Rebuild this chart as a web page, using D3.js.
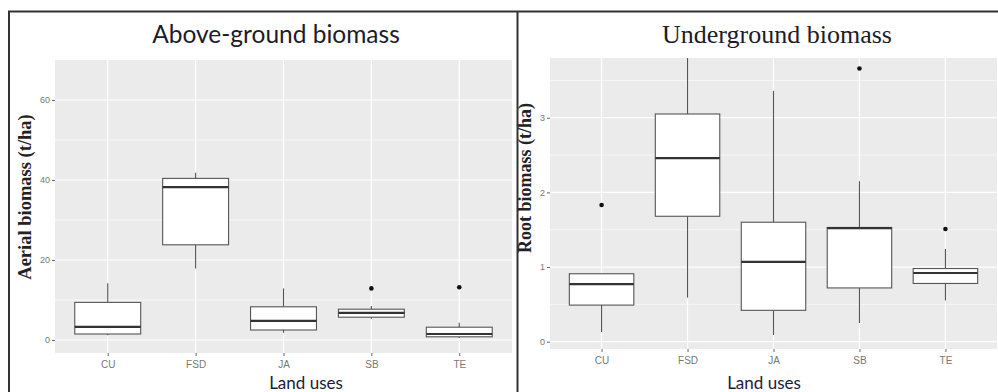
<!DOCTYPE html>
<html>
<head>
<meta charset="utf-8">
<script src="https://cdnjs.cloudflare.com/ajax/libs/d3/7.8.5/d3.min.js"></script>
<style>
  body { margin: 0; background: #fff; }
  svg { display: block; }
</style>
</head>
<body>
<svg id="chart" width="998" height="392"></svg>
<script>
// land use categories (same on both panels)
var categories = ["CU", "FSD", "JA", "SB", "TE"];

// above-ground biomass (t/ha), box stats per category
var aerialLow  = [1.2, 17.9, 1.8, 5.3, 0.5];
var aerialQ1   = [1.5, 23.8, 2.5, 5.7, 0.8];
var aerialMed  = [3.3, 38.2, 4.8, 6.8, 1.5];
var aerialQ3   = [9.4, 40.4, 8.3, 7.7, 3.2];
var aerialHigh = [14.2, 41.8, 12.9, 8.5, 4.3];
var aerialOut  = [[], [], [], [12.9], [13.2]];
var aerialTicks = [0, 20, 40, 60];

// underground biomass (t/ha)
var rootLow  = [0.13, 0.59, 0.09, 0.25, 0.55];
var rootQ1   = [0.49, 1.68, 0.42, 0.72, 0.78];
var rootMed  = [0.77, 2.46, 1.07, 1.52, 0.92];
var rootQ3   = [0.91, 3.05, 1.60, 1.53, 0.98];
var rootHigh = [0.91, 3.90, 3.36, 2.15, 1.24];
var rootOut  = [[1.83], [], [], [3.66], [1.51]];
var rootTicks = [0, 1, 2, 3];

var svg = d3.select("#chart");

// frame lines
svg.append("path")
    .attr("d", "M9,392 V11.5 H998 M517.5,11.5 V392")
    .attr("fill", "none")
    .attr("stroke", "#333")
    .attr("stroke-width", 2);

function drawPanel(opt) {
    var g = svg.append("g");
    var x = d3.scalePoint().domain(categories).range([opt.x0, opt.x1]).padding(0.6);
    var y = d3.scaleLinear().domain(opt.yDomain).range([opt.y1, opt.y0]);
    var step = x.step();

    g.append("rect")
        .attr("x", opt.x0).attr("y", opt.y0)
        .attr("width", opt.x1 - opt.x0).attr("height", opt.y1 - opt.y0)
        .attr("fill", "#EBEBEB");

    // minor grid
    g.selectAll(".minor").data(opt.minor).enter().append("line")
        .attr("x1", opt.x0).attr("x2", opt.x1)
        .attr("y1", d => y(d)).attr("y2", d => y(d))
        .attr("stroke", "#fff").attr("stroke-width", 0.6);
    // major grid
    g.selectAll(".majorY").data(opt.ticks).enter().append("line")
        .attr("x1", opt.x0).attr("x2", opt.x1)
        .attr("y1", d => y(d)).attr("y2", d => y(d))
        .attr("stroke", "#fff").attr("stroke-width", 1.2);
    g.selectAll(".majorX").data(categories).enter().append("line")
        .attr("x1", d => x(d)).attr("x2", d => x(d))
        .attr("y1", opt.y0).attr("y2", opt.y1)
        .attr("stroke", "#fff").attr("stroke-width", 1.2);

    var clipId = "clip" + opt.id;
    svg.append("clipPath").attr("id", clipId).append("rect")
        .attr("x", opt.x0).attr("y", opt.y0)
        .attr("width", opt.x1 - opt.x0).attr("height", opt.y1 - opt.y0);

    var boxes = g.append("g").attr("clip-path", "url(#" + clipId + ")");
    var bw = step * 0.75;

    categories.forEach(function(c, i) {
        var cx = x(c);
        var b = boxes.append("g");
        b.append("line")
            .attr("x1", cx).attr("x2", cx)
            .attr("y1", y(opt.high[i])).attr("y2", y(opt.q3[i]))
            .attr("stroke", "#555").attr("stroke-width", 1.1);
        b.append("line")
            .attr("x1", cx).attr("x2", cx)
            .attr("y1", y(opt.q1[i])).attr("y2", y(opt.low[i]))
            .attr("stroke", "#555").attr("stroke-width", 1.1);
        b.append("rect")
            .attr("x", cx - bw / 2).attr("width", bw)
            .attr("y", y(opt.q3[i])).attr("height", y(opt.q1[i]) - y(opt.q3[i]))
            .attr("fill", "#fff").attr("stroke", "#555").attr("stroke-width", 1.1);
        b.append("line")
            .attr("x1", cx - bw / 2).attr("x2", cx + bw / 2)
            .attr("y1", y(opt.med[i])).attr("y2", y(opt.med[i]))
            .attr("stroke", "#333").attr("stroke-width", 2.2);
        b.selectAll("circle").data(opt.out[i]).enter().append("circle")
            .attr("cx", cx).attr("cy", d => y(d)).attr("r", 2.3)
            .attr("fill", "#111");
    });

    // axes
    var ya = g.append("g")
        .attr("transform", "translate(" + opt.x0 + ",0)")
        .call(d3.axisLeft(y).tickValues(opt.ticks).tickFormat(d3.format("d"))
            .tickSize(3).tickPadding(2));
    ya.select(".domain").remove();
    ya.selectAll("line").attr("stroke", "#666");
    ya.selectAll("text").attr("fill", "#777").attr("font-size", 9)
        .attr("font-family", "Liberation Sans Narrow, Liberation Sans, sans-serif");

    var xa = g.append("g")
        .attr("transform", "translate(0," + opt.y1 + ")")
        .call(d3.axisBottom(x).tickSize(3).tickPadding(5));
    xa.select(".domain").remove();
    xa.selectAll("line").attr("stroke", "#666");
    xa.selectAll("text").attr("fill", "#777").attr("font-size", 10)
        .attr("font-family", "Liberation Sans Narrow, Liberation Sans, sans-serif");

    // titles
    g.append("text")
        .attr("x", opt.titleX).attr("y", 43)
        .attr("text-anchor", "middle")
        .attr("font-family", opt.titleFont)
        .attr("font-size", opt.titleSize)
        .attr("fill", "#1c1c2a")
        .text(opt.title);

    g.append("text")
        .attr("x", opt.xLabelX).attr("y", 388.5)
        .attr("text-anchor", "middle")
        .attr("font-family", "Lato, sans-serif")
        .attr("font-size", 17)
        .attr("fill", "#1c1c3a")
        .text("Land uses");

    g.append("text")
        .attr("transform", "translate(" + opt.yLabelX + "," + opt.yLabelY + ") rotate(-90)")
        .attr("text-anchor", "middle")
        .attr("font-family", "Liberation Serif, serif")
        .attr("font-weight", "bold")
        .attr("font-size", opt.yLabelSize)
        .attr("fill", "#222")
        .text(opt.yLabel);
}

drawPanel({
    id: "a", x0: 55, x1: 512, y0: 60, y1: 353,
    yDomain: [-3.25, 70], ticks: aerialTicks, minor: [10, 30, 50],
    low: aerialLow, q1: aerialQ1, med: aerialMed, q3: aerialQ3, high: aerialHigh, out: aerialOut,
    title: "Above-ground biomass", titleFont: "Lato, sans-serif", titleSize: 24.5, titleX: 276,
    xLabelX: 306, yLabel: "Aerial biomass (t/ha)", yLabelX: 31, yLabelY: 197, yLabelSize: 18.5
});

drawPanel({
    id: "b", x0: 550, x1: 997, y0: 58, y1: 349,
    yDomain: [-0.098, 3.80], ticks: rootTicks, minor: [0.5, 1.5, 2.5, 3.5],
    low: rootLow, q1: rootQ1, med: rootMed, q3: rootQ3, high: rootHigh, out: rootOut,
    title: "Underground biomass", titleFont: "Liberation Serif, serif", titleSize: 26, titleX: 777,
    xLabelX: 764, yLabel: "Root biomass (t/ha)", yLabelX: 531, yLabelY: 178, yLabelSize: 18
});
</script>
</body>
</html>
